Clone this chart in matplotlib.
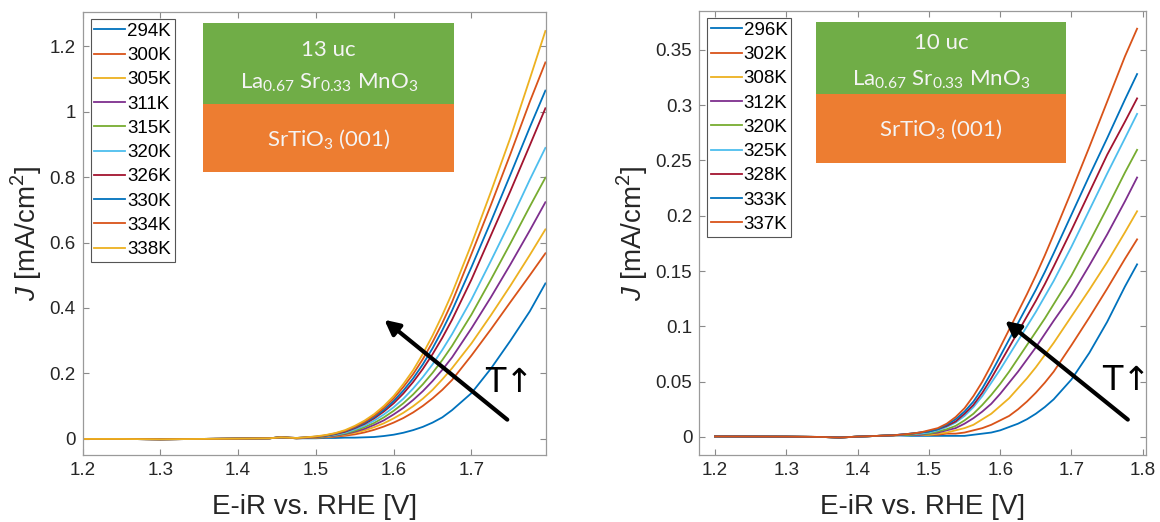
import matplotlib
matplotlib.use('Agg')
import matplotlib.pyplot as plt
from matplotlib.patches import Rectangle

plt.rcParams['font.family'] = ['Liberation Sans', 'DejaVu Sans']
plt.rcParams['mathtext.fontset'] = 'custom'
plt.rcParams['mathtext.rm'] = 'Lato'
plt.rcParams['mathtext.it'] = 'Liberation Sans:italic'

# MATLAB default line colours
matlab_colors = ['#0072BD', '#D95319', '#EDB120', '#7E2F8E', '#77AC30', '#4DBEEE', '#A2142F']

# ---- left panel: 13 uc LSMO, J [mA/cm2] vs E-iR [V] ----
v_left = [1.20, 1.25, 1.30, 1.35, 1.40, 1.44, 1.455,
          1.475, 1.4875, 1.50, 1.5125, 1.525, 1.5375, 1.55, 1.5625, 1.575, 1.5875,
          1.60, 1.6125, 1.625, 1.6375, 1.65, 1.6625, 1.675,
          1.70, 1.725, 1.75, 1.775, 1.795]
j_low_left = [0.0, 0.0, -0.001, 0.0, 0.001, 0.002, 0.005]
labels_left = ['294K', '300K', '305K', '311K', '315K', '320K', '326K', '330K', '334K', '338K']
j_left = [
    j_low_left + [0.002, 0.002, 0.002, 0.003, 0.003, 0.004, 0.004, 0.005, 0.006, 0.009,
                  0.013, 0.019, 0.027, 0.037, 0.050, 0.066, 0.088, 0.140, 0.215, 0.300, 0.390, 0.475],
    j_low_left + [0.002, 0.003, 0.004, 0.005, 0.007, 0.010, 0.014, 0.020, 0.028, 0.038,
                  0.050, 0.064, 0.081, 0.101, 0.124, 0.150, 0.180, 0.255, 0.335, 0.418, 0.500, 0.567],
    j_low_left + [0.002, 0.003, 0.004, 0.006, 0.009, 0.013, 0.019, 0.026, 0.036, 0.048,
                  0.063, 0.080, 0.100, 0.123, 0.150, 0.182, 0.216, 0.292, 0.378, 0.468, 0.562, 0.640],
    j_low_left + [0.002, 0.003, 0.005, 0.007, 0.010, 0.015, 0.022, 0.031, 0.043, 0.057,
                  0.075, 0.095, 0.119, 0.146, 0.177, 0.211, 0.249, 0.338, 0.433, 0.533, 0.637, 0.723],
    j_low_left + [0.002, 0.004, 0.005, 0.008, 0.012, 0.017, 0.025, 0.036, 0.049, 0.066,
                  0.086, 0.109, 0.136, 0.167, 0.202, 0.241, 0.284, 0.380, 0.487, 0.597, 0.710, 0.798],
    j_low_left + [0.003, 0.004, 0.006, 0.009, 0.013, 0.019, 0.029, 0.041, 0.056, 0.075,
                  0.097, 0.123, 0.154, 0.189, 0.228, 0.272, 0.320, 0.426, 0.544, 0.665, 0.792, 0.889],
    j_low_left + [0.003, 0.004, 0.006, 0.010, 0.015, 0.022, 0.033, 0.046, 0.063, 0.084,
                  0.109, 0.139, 0.174, 0.214, 0.259, 0.309, 0.364, 0.487, 0.622, 0.757, 0.897, 1.010],
    j_low_left + [0.003, 0.005, 0.007, 0.010, 0.016, 0.024, 0.035, 0.049, 0.067, 0.089,
                  0.116, 0.148, 0.185, 0.228, 0.277, 0.332, 0.392, 0.525, 0.664, 0.807, 0.952, 1.064],
    j_low_left + [0.003, 0.005, 0.007, 0.011, 0.017, 0.025, 0.037, 0.052, 0.071, 0.095,
                  0.124, 0.159, 0.198, 0.244, 0.296, 0.354, 0.418, 0.565, 0.715, 0.870, 1.030, 1.150],
    j_low_left + [0.003, 0.005, 0.008, 0.012, 0.018, 0.027, 0.040, 0.056, 0.076, 0.101,
                  0.131, 0.168, 0.210, 0.260, 0.316, 0.378, 0.445, 0.595, 0.755, 0.920, 1.100, 1.246],
]
xticks_left = [1.2, 1.3, 1.4, 1.5, 1.6, 1.7]
yticks_left = [0, 0.2, 0.4, 0.6, 0.8, 1.0, 1.2]
yticklabels_left = ['0', '0.2', '0.4', '0.6', '0.8', '1', '1.2']

# ---- right panel: 10 uc LSMO ----
v_right = [1.20, 1.25, 1.30, 1.35, 1.375, 1.40, 1.45,
           1.475, 1.4875, 1.50, 1.5125, 1.525, 1.5375, 1.55, 1.5625, 1.575, 1.5875,
           1.60, 1.6125, 1.625, 1.6375, 1.65, 1.6625, 1.675,
           1.70, 1.725, 1.75, 1.775, 1.792]
j_low_right = [0.0005, 0.0004, 0.0003, 0.0, -0.0005, 0.0003, 0.0015]
labels_right = ['296K', '302K', '308K', '312K', '320K', '325K', '328K', '333K', '337K']
j_right = [
    j_low_right + [0.001, 0.001, 0.001, 0.001, 0.001, 0.001, 0.001, 0.002, 0.003, 0.004,
                   0.006, 0.009, 0.012, 0.016, 0.021, 0.027, 0.034, 0.052, 0.076, 0.104, 0.136, 0.156],
    j_low_right + [0.002, 0.002, 0.002, 0.002, 0.003, 0.003, 0.004, 0.006, 0.008, 0.011,
                   0.015, 0.019, 0.025, 0.032, 0.040, 0.049, 0.059, 0.083, 0.108, 0.134, 0.161, 0.1786],
    j_low_right + [0.002, 0.002, 0.002, 0.003, 0.004, 0.006, 0.008, 0.011, 0.016, 0.021,
                   0.028, 0.035, 0.044, 0.053, 0.063, 0.074, 0.085, 0.109, 0.133, 0.158, 0.185, 0.204],
    j_low_right + [0.002, 0.002, 0.003, 0.004, 0.006, 0.008, 0.012, 0.017, 0.023, 0.030,
                   0.039, 0.049, 0.059, 0.070, 0.081, 0.093, 0.105, 0.128, 0.155, 0.183, 0.213, 0.2345],
    j_low_right + [0.002, 0.003, 0.003, 0.005, 0.007, 0.010, 0.015, 0.021, 0.029, 0.038,
                   0.048, 0.059, 0.071, 0.083, 0.095, 0.107, 0.120, 0.146, 0.176, 0.207, 0.239, 0.2595],
    j_low_right + [0.003, 0.003, 0.004, 0.006, 0.009, 0.013, 0.019, 0.027, 0.037, 0.049,
                   0.061, 0.074, 0.087, 0.100, 0.113, 0.127, 0.141, 0.172, 0.205, 0.238, 0.270, 0.292],
    j_low_right + [0.003, 0.004, 0.005, 0.007, 0.010, 0.014, 0.021, 0.029, 0.040, 0.053,
                   0.067, 0.081, 0.095, 0.109, 0.123, 0.138, 0.154, 0.187, 0.221, 0.255, 0.285, 0.306],
    j_low_right + [0.003, 0.004, 0.005, 0.007, 0.011, 0.016, 0.023, 0.032, 0.044, 0.058,
                   0.073, 0.088, 0.103, 0.118, 0.133, 0.149, 0.166, 0.201, 0.236, 0.270, 0.305, 0.328],
    j_low_right + [0.003, 0.004, 0.006, 0.008, 0.012, 0.018, 0.026, 0.037, 0.050, 0.065,
                   0.081, 0.097, 0.113, 0.129, 0.146, 0.164, 0.183, 0.222, 0.262, 0.303, 0.344, 0.369],
]
xticks_right = [1.2, 1.3, 1.4, 1.5, 1.6, 1.7, 1.8]
yticks_right = [0, 0.05, 0.1, 0.15, 0.2, 0.25, 0.3, 0.35]
yticklabels_right = ['0', '0.05', '0.1', '0.15', '0.2', '0.25', '0.3', '0.35']

thickness = ['13 uc', '10 uc']
film = r'La$_{0.67}$ Sr$_{0.33}$ MnO$_3$'
substrate = r'SrTiO$_3$ (001)'


def draw_panel(ax, v, curves, labels, xlim, ylim, xticks, yticks, yticklabels,
               uc_text, box_x, box_y, text_y, arrow_tail, arrow_head, t_pos):
    for i, (j, lab) in enumerate(zip(curves, labels)):
        ax.plot(v, j, color=matlab_colors[i % 7], lw=1.3, label=lab)

    ax.set_xlim(xlim)
    ax.set_ylim(ylim)
    ax.set_xticks(xticks)
    ax.set_xticklabels([f'{t:g}' for t in xticks])
    ax.set_yticks(yticks)
    ax.set_yticklabels(yticklabels)
    ax.tick_params(direction='in', top=True, right=True, length=4, width=0.8,
                   color='#8a8a8a', labelsize=13.5, labelcolor='#262626', pad=5)
    for sp in ax.spines.values():
        sp.set_color('#9a9a9a')
        sp.set_linewidth(0.9)
    ax.set_xlabel('E-iR vs. RHE [V]', fontsize=20, color='#262626', labelpad=11)
    ax.set_ylabel(r'$J$ [mA/cm$^2$]', fontsize=20, color='#262626', labelpad=4)

    leg = ax.legend(loc='upper left', bbox_to_anchor=(0.0175, 0.984), borderaxespad=0,
                    fontsize=13.5, handlelength=1.65, handletextpad=0.1, labelspacing=0.38,
                    borderpad=0.2, fancybox=False, framealpha=1, edgecolor='#555555')
    leg.get_frame().set_linewidth(0.8)

    # layer sketch: green film on orange substrate
    x0, x1 = box_x
    y_bot, y_mid, y_top = box_y
    ax.add_patch(Rectangle((x0, y_mid), x1 - x0, y_top - y_mid, transform=ax.transAxes,
                           facecolor='#70AD47', edgecolor='none', zorder=3))
    ax.add_patch(Rectangle((x0, y_bot), x1 - x0, y_mid - y_bot, transform=ax.transAxes,
                           facecolor='#ED7D31', edgecolor='none', zorder=3))
    xc = (x0 + x1) / 2
    for txt, ty in zip([uc_text, film, substrate], text_y):
        ax.text(xc, ty, txt, transform=ax.transAxes, ha='center', va='center',
                fontsize=16, color='#F4F4F4', family='Lato', zorder=4)

    ax.annotate('', xy=arrow_head, xytext=arrow_tail,
                arrowprops=dict(arrowstyle='-|>', lw=3, color='k', mutation_scale=22,
                                shrinkA=0, shrinkB=0))
    ax.text(t_pos[0], t_pos[1], 'T\u2191', fontsize=24, ha='center', va='center',
            family='DejaVu Sans')


fig = plt.figure(figsize=(11.6, 5.22), dpi=100)
ax1 = fig.add_axes([82.5 / 1160, 67 / 522, 463.2 / 1160, 443 / 522])
ax2 = fig.add_axes([699.3 / 1160, 67 / 522, 446.7 / 1160, 444 / 522])

draw_panel(ax1, v_left, j_left, labels_left, (1.2, 1.7954), (-0.049, 1.304),
           xticks_left, yticks_left, yticklabels_left, thickness[0],
           (0.2608, 0.8027), (0.6395, 0.7917, 0.9745), (0.9142, 0.8397, 0.711),
           (1.746, 0.059), (1.588, 0.364), (1.748, 0.1725))
draw_panel(ax2, v_right, j_right, labels_right, (1.178, 1.8045), (-0.0163, 0.385),
           xticks_right, yticks_right, yticklabels_right, thickness[1],
           (0.2606, 0.8209), (0.657, 0.8131, 0.9745), (0.928, 0.8446, 0.732),
           (1.779, 0.0157), (1.607, 0.105), (1.777, 0.0511))

fig.savefig('out.png', dpi=100, facecolor='white')
